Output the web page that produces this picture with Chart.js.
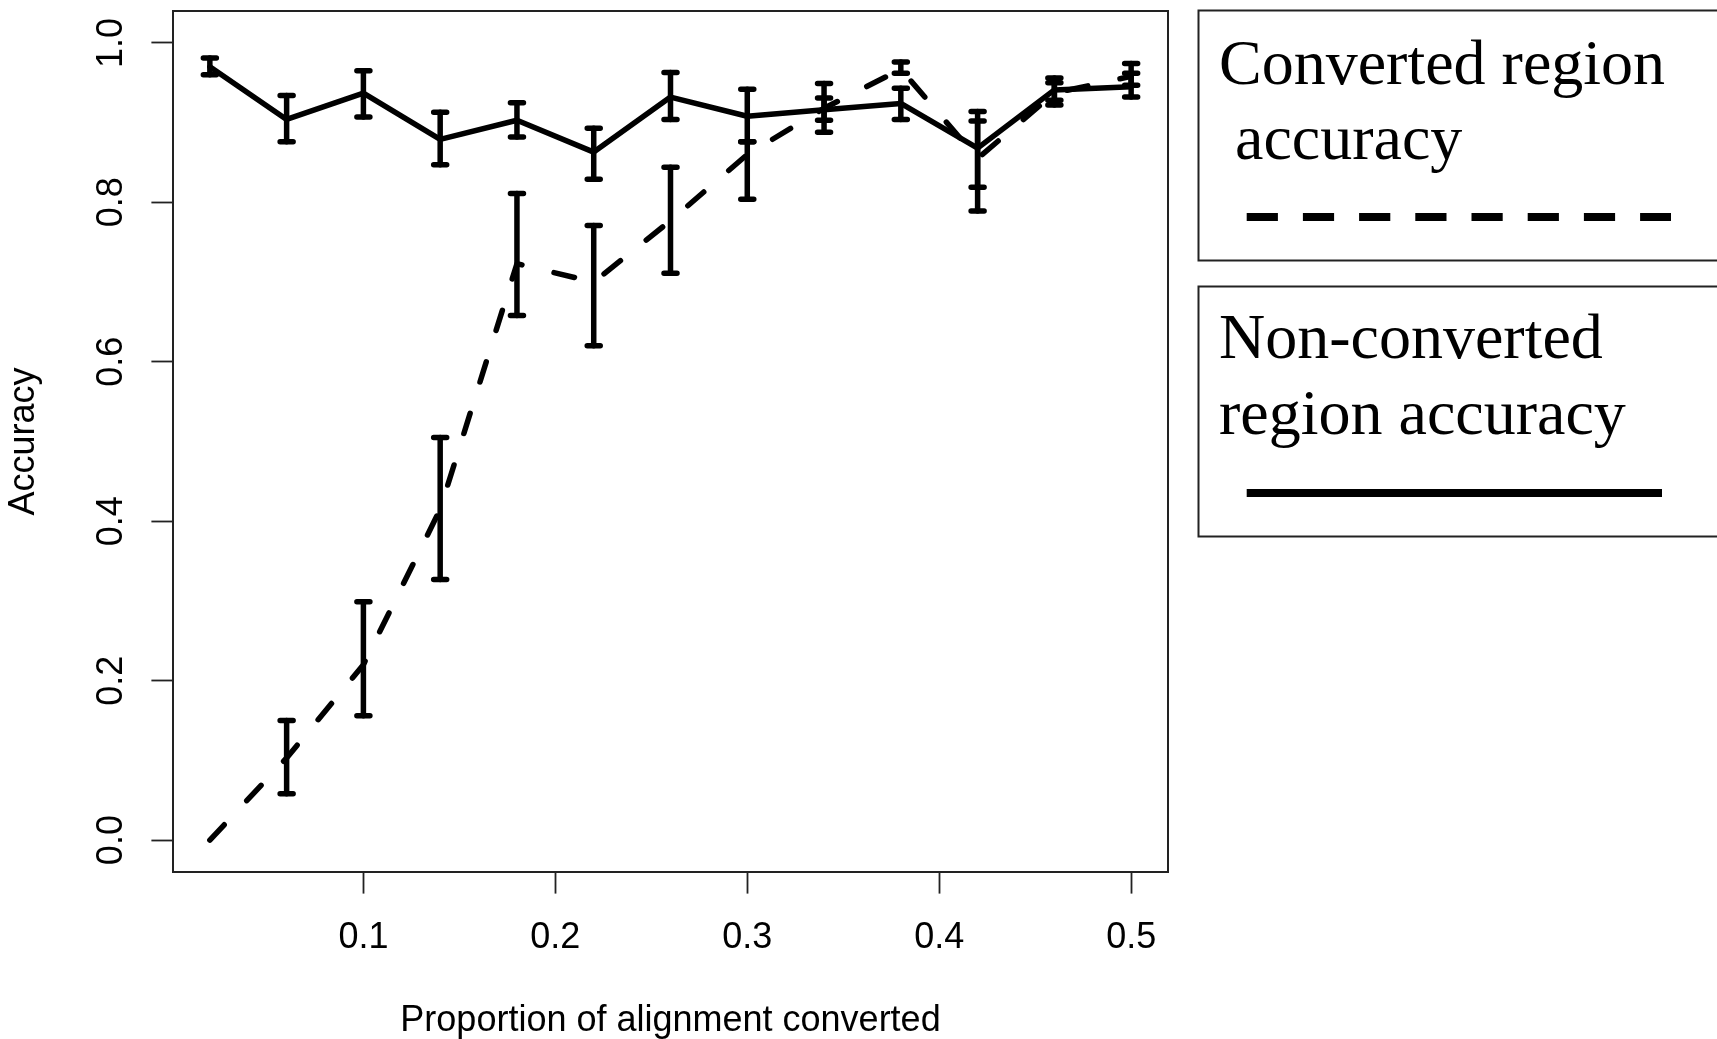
<!DOCTYPE html>
<html><head><meta charset="utf-8">
<script src="https://cdn.jsdelivr.net/npm/chart.js@4.4.1/dist/chart.umd.min.js"></script>
<style>html,body{margin:0;padding:0;background:#fff;overflow:hidden}#wrap{position:relative;width:1717px;height:1039px}</style>
</head><body><div id="wrap"><canvas id="c"></canvas></div>
<script>
// ---- data ----
const xs = [0.02,0.06,0.10,0.14,0.18,0.22,0.26,0.30,0.34,0.38,0.42,0.46,0.50];
const convMean = [0.000,0.103,0.220,0.415,0.723,0.700,0.777,0.860,0.918,0.967,0.855,0.937,0.958];
const convLow  = [0.000,0.058,0.156,0.327,0.658,0.620,0.711,0.804,0.903,0.962,0.789,0.928,0.947];
const convHigh = [0.000,0.150,0.299,0.505,0.811,0.771,0.844,0.876,0.931,0.976,0.902,0.950,0.974];
const nonMean  = [0.970,0.904,0.937,0.879,0.903,0.863,0.932,0.908,0.916,0.924,0.868,0.941,0.945];
const nonLow   = [0.960,0.876,0.907,0.847,0.882,0.829,0.904,0.876,0.888,0.904,0.819,0.922,0.932];
const nonHigh  = [0.981,0.934,0.965,0.913,0.925,0.893,0.963,0.942,0.949,0.943,0.914,0.956,0.962];
const xTicks = [0.1,0.2,0.3,0.4,0.5];
const yTicks = [0.0,0.2,0.4,0.6,0.8,1.0];
const xTitle = 'Proportion of alignment converted';
const yTitle = 'Accuracy';
const legendLines = [['Converted region',' accuracy'],['Non-converted','region accuracy']];

const SANS = "'Liberation Sans', Arial, Helvetica, sans-serif";
const SERIF = "'Liberation Serif', 'Times New Roman', serif";

const errorBars = {
  id:'errorBars',
  afterDatasetsDraw(chart){
    const {ctx, scales:{x,y}} = chart;
    ctx.save();
    ctx.strokeStyle='#000'; ctx.lineCap='round';
    chart.data.datasets.forEach(ds=>{
      const lo=ds.errLow, hi=ds.errHigh;
      ds.data.forEach((p,i)=>{
        if (hi[i]-lo[i] < 1e-9) return;
        const px=x.getPixelForValue(p.x), y1=y.getPixelForValue(hi[i]), y2=y.getPixelForValue(lo[i]);
        ctx.lineWidth=5.5;
        ctx.beginPath(); ctx.moveTo(px,y1); ctx.lineTo(px,y2); ctx.stroke();
        ctx.beginPath();
        ctx.moveTo(px-6.5,y1); ctx.lineTo(px+6.5,y1);
        ctx.moveTo(px-6.5,y2); ctx.lineTo(px+6.5,y2);
        ctx.stroke();
      });
    });
    ctx.restore();
  }
};

const frame = {
  id:'frame',
  afterDraw(chart){
    const {ctx, chartArea:a} = chart;
    ctx.save();
    ctx.strokeStyle='#222'; ctx.lineWidth=2;
    ctx.strokeRect(a.left, a.top, a.right-a.left, a.bottom-a.top);
    ctx.restore();
  }
};

const boxLegend = {
  id:'boxLegend',
  afterDraw(chart){
    const ctx = chart.ctx;
    const boxes = [
      {top:10.5, bottom:260.5, base:[84,159], lineY:217, x2:1671},
      {top:286.5, bottom:536.5, base:[358,434], lineY:493, x2:1662}
    ];
    ctx.save();
    chart.data.datasets.forEach((ds,i)=>{
      const b = boxes[i];
      ctx.strokeStyle='#222'; ctx.lineWidth=2;
      ctx.strokeRect(1198.5, b.top, 600, b.bottom-b.top);
      ctx.fillStyle='#000';
      ctx.font = '64px ' + SERIF;
      ctx.textBaseline='alphabetic'; ctx.textAlign='left';
      legendLines[i].forEach((t,k)=>ctx.fillText(t, 1219, b.base[k]));
      ctx.strokeStyle='#000'; ctx.lineWidth=8; ctx.lineCap='butt';
      ctx.setLineDash(ds.borderDash && ds.borderDash.length ? [31.2,25] : []);
      ctx.beginPath(); ctx.moveTo(1246.7, b.lineY); ctx.lineTo(b.x2, b.lineY); ctx.stroke();
      ctx.setLineDash([]);
    });
    ctx.restore();
  }
};

new Chart(document.getElementById('c'), {
  type:'line',
  data:{
    datasets:[
      {label:'Converted region accuracy', data: xs.map((v,i)=>({x:v,y:convMean[i]})),
       errLow: convLow, errHigh: convHigh,
       borderColor:'#000', borderWidth:5.5, borderDash:[21,33], borderCapStyle:'round', borderJoinStyle:'round',
       pointRadius:0, pointHoverRadius:0, tension:0, fill:false},
      {label:'Non-converted region accuracy', data: xs.map((v,i)=>({x:v,y:nonMean[i]})),
       errLow: nonLow, errHigh: nonHigh,
       borderColor:'#000', borderWidth:5.5, borderCapStyle:'round', borderJoinStyle:'round',
       pointRadius:0, pointHoverRadius:0, tension:0, fill:false}
    ]
  },
  options:{
    responsive:true, maintainAspectRatio:false, animation:false, events:[],
    layout:{padding:{top:11, right:549, bottom:0, left:0}},
    plugins:{legend:{display:false}, tooltip:{enabled:false}},
    scales:{
      x:{type:'linear', min:0.0008, max:0.5192, position:'bottom',
        afterBuildTicks(s){ s.ticks = xTicks.map(v=>({value:v})); },
        afterFit(s){ s.height=167; s.paddingLeft=0; s.paddingRight=0; s.paddingTop=0; s.paddingBottom=0; },
        grid:{drawOnChartArea:false, drawTicks:true, tickLength:21.6, tickWidth:1.8, tickColor:'#222'},
        border:{display:false},
        ticks:{callback:v=>Number(v).toFixed(1), color:'#000', padding:26, maxRotation:0, minRotation:0, autoSkip:false,
          font:{family:SANS, size:36, lineHeight:1}},
        title:{display:true, text:xTitle, color:'#000', font:{family:SANS, size:36, lineHeight:1}, padding:{top:0,bottom:0}}
      },
      y:{type:'linear', min:-0.04, max:1.04, position:'left',
        afterBuildTicks(s){ s.ticks = yTicks.map(v=>({value:v})); },
        afterFit(s){ s.width=173; s.paddingLeft=0; s.paddingRight=0; s.paddingTop=0; s.paddingBottom=0; },
        grid:{drawOnChartArea:false, drawTicks:true, tickLength:21.6, tickWidth:1.8, tickColor:'#222'},
        border:{display:false},
        ticks:{callback:v=>Number(v).toFixed(1), color:'#000', padding:14, minRotation:90, maxRotation:90, crossAlign:'center', autoSkip:false,
          font:{family:SANS, size:36, lineHeight:1}},
        title:{display:true, text:yTitle, color:'#000', font:{family:SANS, size:36, lineHeight:1}, padding:{top:6,bottom:0}}
      }
    }
  },
  plugins:[errorBars, frame, boxLegend]
});
</script>
</body></html>
